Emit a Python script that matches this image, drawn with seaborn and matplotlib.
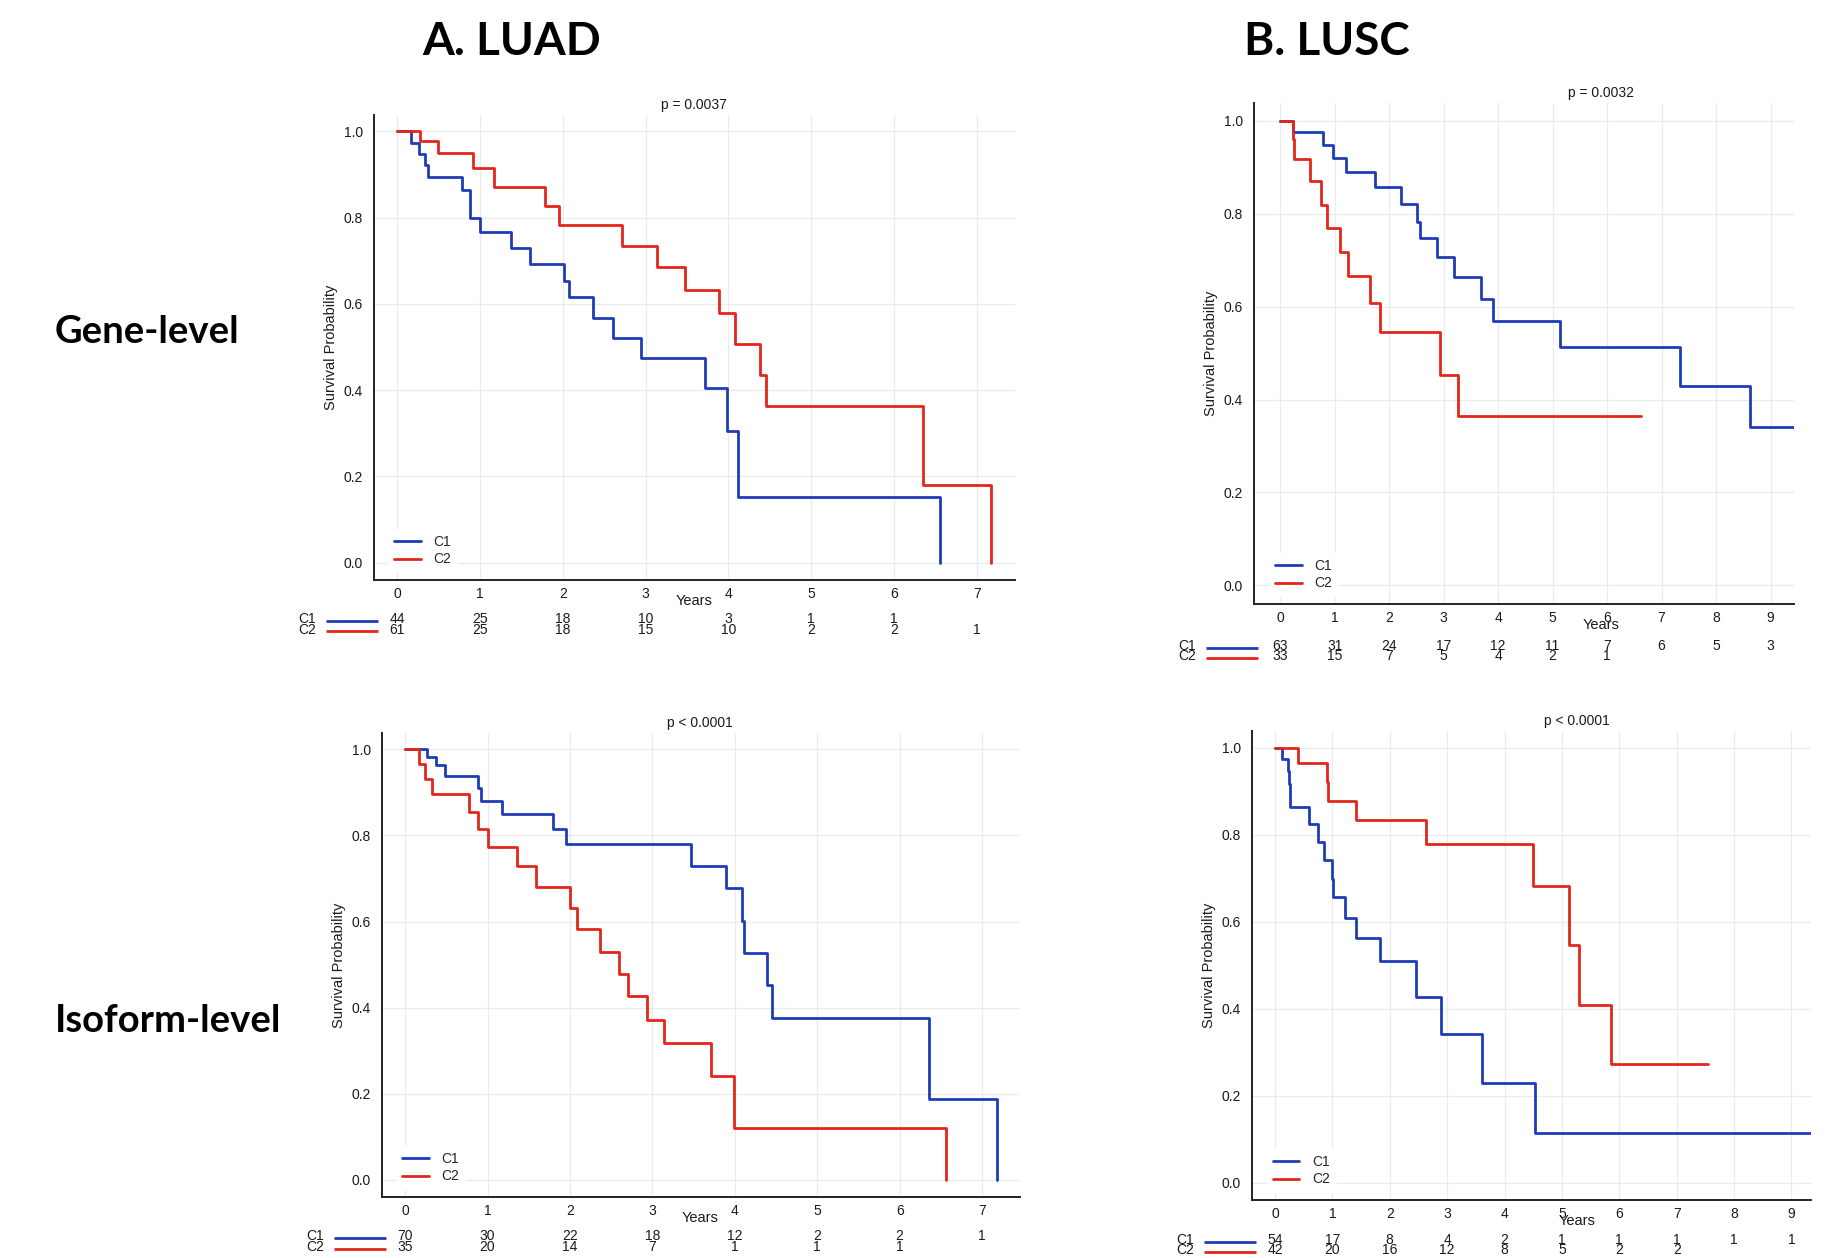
import pandas as pd
import seaborn as sns
import matplotlib.pyplot as plt
from matplotlib.lines import Line2D

sns.set_theme(style="white")
plt.rcParams["font.family"] = ["Liberation Sans", "DejaVu Sans"]

BLUE = "#1f3cb8"
RED = "#e3261c"

# =========================
# Kaplan-Meier curves
# =========================
# A. LUAD, gene-level
luad_gene_c1_t = [0, 0.17, 0.26, 0.33, 0.37, 0.78, 0.88, 1.00, 1.37, 1.60, 2.01, 2.08, 2.36,
                  2.60, 2.94, 3.72, 3.98, 4.11, 6.55]
luad_gene_c1_s = [1, 0.973, 0.948, 0.921, 0.894, 0.864, 0.799, 0.767, 0.730, 0.693, 0.654,
                  0.615, 0.567, 0.522, 0.475, 0.406, 0.305, 0.153, 0.0]
luad_gene_c2_t = [0, 0.27, 0.49, 0.92, 1.17, 1.79, 1.95, 2.71, 3.14, 3.47, 3.89, 4.08, 4.38,
                  4.45, 6.35, 7.17]
luad_gene_c2_s = [1, 0.978, 0.950, 0.914, 0.870, 0.826, 0.783, 0.734, 0.685, 0.633, 0.579,
                  0.507, 0.435, 0.363, 0.181, 0.0]

# B. LUSC, gene-level
lusc_gene_c1_t = [0, 0.23, 0.78, 0.97, 1.21, 1.74, 2.21, 2.51, 2.57, 2.87, 3.19, 3.69, 3.91,
                  5.13, 7.34, 8.63, 9.50]
lusc_gene_c1_s = [1, 0.976, 0.948, 0.919, 0.890, 0.858, 0.821, 0.783, 0.747, 0.707, 0.664,
                  0.617, 0.570, 0.514, 0.428, 0.341, 0.341]
lusc_gene_c2_t = [0, 0.23, 0.25, 0.55, 0.75, 0.86, 1.10, 1.24, 1.65, 1.83, 2.93, 3.26, 6.63]
lusc_gene_c2_s = [1, 0.960, 0.918, 0.870, 0.819, 0.769, 0.718, 0.666, 0.607, 0.545, 0.453,
                  0.364, 0.364]

# A. LUAD, isoform-level
luad_iso_c1_t = [0, 0.26, 0.38, 0.49, 0.88, 0.92, 1.18, 1.79, 1.95, 3.47, 3.89, 4.09, 4.11,
                 4.39, 4.45, 6.35, 7.18]
luad_iso_c1_s = [1, 0.983, 0.963, 0.939, 0.910, 0.881, 0.849, 0.814, 0.779, 0.730, 0.677,
                 0.602, 0.527, 0.452, 0.377, 0.188, 0.0]
luad_iso_c2_t = [0, 0.17, 0.24, 0.33, 0.77, 0.88, 1.01, 1.36, 1.59, 2.00, 2.08, 2.36, 2.60,
                 2.70, 2.94, 3.14, 3.71, 3.99, 6.56]
luad_iso_c2_s = [1, 0.966, 0.932, 0.896, 0.855, 0.815, 0.774, 0.729, 0.680, 0.631, 0.582,
                 0.530, 0.477, 0.426, 0.371, 0.318, 0.240, 0.120, 0.0]

# B. LUSC, isoform-level
lusc_iso_c1_t = [0, 0.13, 0.22, 0.24, 0.26, 0.59, 0.75, 0.85, 0.99, 1.02, 1.22, 1.42, 1.83,
                 2.46, 2.90, 3.60, 4.53, 9.50]
lusc_iso_c1_s = [1, 0.974, 0.947, 0.916, 0.864, 0.825, 0.784, 0.742, 0.698, 0.656, 0.608,
                 0.562, 0.510, 0.426, 0.341, 0.228, 0.114, 0.114]
lusc_iso_c2_t = [0, 0.40, 0.91, 0.93, 1.41, 2.64, 4.49, 5.13, 5.30, 5.85, 7.55]
lusc_iso_c2_s = [1, 0.964, 0.920, 0.876, 0.833, 0.778, 0.681, 0.545, 0.409, 0.273, 0.273]

# =========================
# Numbers at risk
# =========================
luad_gene_risk_c1 = [44, 25, 18, 10, 3, 1, 1]
luad_gene_risk_c2 = [61, 25, 18, 15, 10, 2, 2, 1]
lusc_gene_risk_c1 = [63, 31, 24, 17, 12, 11, 7, 6, 5, 3]
lusc_gene_risk_c2 = [33, 15, 7, 5, 4, 2, 1]
luad_iso_risk_c1 = [70, 30, 22, 18, 12, 2, 2, 1]
luad_iso_risk_c2 = [35, 20, 14, 7, 1, 1, 1]
lusc_iso_risk_c1 = [54, 17, 8, 4, 2, 1, 1, 1, 1, 1]
lusc_iso_risk_c2 = [42, 20, 16, 12, 8, 5, 2, 2]

pvals = ["p = 0.0037", "p = 0.0032", "p < 0.0001", "p < 0.0001"]

W, H = 1847, 1258
fig = plt.figure(figsize=(W / 100, H / 100), dpi=100)

# panel specs: axes box in pixels (left, top, right, bottom), xlim, x of title/Years,
# risk row offsets below the axes (pixels)
panels = [
    dict(box=(374, 115, 1015, 580), xlim=(-0.28, 7.46), xmax_tick=7, tx=3.58,
         c1=(luad_gene_c1_t, luad_gene_c1_s), c2=(luad_gene_c2_t, luad_gene_c2_s),
         r1=luad_gene_risk_c1, r2=luad_gene_risk_c2, p=pvals[0], rows=(39, 49.5)),
    dict(box=(1254, 103, 1794, 604), xlim=(-0.48, 9.43), xmax_tick=9, tx=5.89,
         c1=(lusc_gene_c1_t, lusc_gene_c1_s), c2=(lusc_gene_c2_t, lusc_gene_c2_s),
         r1=lusc_gene_risk_c1, r2=lusc_gene_risk_c2, p=pvals[1], rows=(42, 52.5)),
    dict(box=(382, 733, 1020, 1197), xlim=(-0.28, 7.46), xmax_tick=7, tx=3.58,
         c1=(luad_iso_c1_t, luad_iso_c1_s), c2=(luad_iso_c2_t, luad_iso_c2_s),
         r1=luad_iso_risk_c1, r2=luad_iso_risk_c2, p=pvals[2], rows=(39.5, 50)),
    dict(box=(1252, 731, 1811, 1200), xlim=(-0.40, 9.34), xmax_tick=9, tx=5.26,
         c1=(lusc_iso_c1_t, lusc_iso_c1_s), c2=(lusc_iso_c2_t, lusc_iso_c2_s),
         r1=lusc_iso_risk_c1, r2=lusc_iso_risk_c2, p=pvals[3], rows=(40, 50.5)),
]

FS = 10

for pan in panels:
    l, t, r, b = pan["box"]
    wpx, hpx = r - l, b - t
    ax = fig.add_axes([l / W, 1 - b / H, wpx / W, hpx / H])

    df = pd.concat([
        pd.DataFrame({"time": pan["c1"][0], "surv": pan["c1"][1], "group": "C1"}),
        pd.DataFrame({"time": pan["c2"][0], "surv": pan["c2"][1], "group": "C2"}),
    ])
    sns.lineplot(data=df, x="time", y="surv", hue="group", palette={"C1": BLUE, "C2": RED},
                 estimator=None, sort=False, drawstyle="steps-post", linewidth=2.0,
                 legend=False, ax=ax, zorder=3)

    ax.set_xlim(*pan["xlim"])
    ax.set_ylim(-0.04, 1.038)
    ax.set_xticks(range(0, pan["xmax_tick"] + 1))
    ax.set_yticks([0, 0.2, 0.4, 0.6, 0.8, 1.0])
    ax.set_yticklabels(["0.0", "0.2", "0.4", "0.6", "0.8", "1.0"])
    ax.grid(True, color="#ebebeb", linewidth=0.9)
    ax.set_axisbelow(True)
    for s in ["top", "right"]:
        ax.spines[s].set_visible(False)
    for s in ["left", "bottom"]:
        ax.spines[s].set_color("#222222")
        ax.spines[s].set_linewidth(1.4)
    ax.tick_params(axis="both", length=2.5, width=0.8, color="#555555",
                   labelsize=FS, labelcolor="#1a1a1a")
    ax.tick_params(axis="y", pad=5.5)
    ax.tick_params(axis="x", pad=2.5)
    ax.set_xlabel("")
    ax.set_ylabel("Survival Probability", fontsize=10.5, color="#1a1a1a")
    ax.yaxis.set_label_coords(-36 / wpx, 0.5)

    # p-value and Years label
    ax.annotate(pan["p"], xy=(pan["tx"], 1), xycoords=("data", "axes fraction"),
                xytext=(0, 3), textcoords="offset pixels", ha="center", va="bottom",
                fontsize=FS, color="#1a1a1a")
    ax.annotate("Years", xy=(pan["tx"], 0), xycoords=("data", "axes fraction"),
                xytext=(0, -21), textcoords="offset pixels", ha="center", va="center",
                fontsize=10.5, color="#1a1a1a")

    handles = [Line2D([], [], color=BLUE, lw=2.0), Line2D([], [], color=RED, lw=2.0)]
    leg = ax.legend(handles, ["C1", "C2"], loc="lower left", bbox_to_anchor=(20 / wpx - 0.008, 8 / hpx),
                    frameon=True, facecolor="white", edgecolor="white", framealpha=1,
                    fancybox=False, fontsize=FS, handlelength=1.9, handletextpad=0.9,
                    labelspacing=0.25, borderpad=0.4, borderaxespad=0)
    leg.set_zorder(4)

    # numbers at risk table
    for row, (name, counts, col) in enumerate([("C1", pan["r1"], BLUE), ("C2", pan["r2"], RED)]):
        off = pan["rows"][row]
        ax.annotate(name, xy=(0, 0), xycoords="axes fraction", xytext=(-58, -off),
                    textcoords="offset pixels", ha="right", va="center", fontsize=FS,
                    color="#1a1a1a", annotation_clip=False)
        ax.plot([-48 / wpx, 4 / wpx], [-(off + 1.5) / hpx] * 2, transform=ax.transAxes,
                color=col, lw=2.0, clip_on=False, solid_capstyle="butt")
        for i, n in enumerate(counts):
            ax.annotate(str(n), xy=(i, 0), xycoords=("data", "axes fraction"),
                        xytext=(0, -off), textcoords="offset pixels", ha="center",
                        va="center", fontsize=FS, color="#1a1a1a", annotation_clip=False)

# column and row headings
big = dict(fontweight="bold", family=["Lato", "DejaVu Sans"], color="black")
fig.text(512 / W, 1 - 55 / H, "A. LUAD", ha="center", va="baseline", fontsize=33, **big)
fig.text(1327 / W, 1 - 55 / H, "B. LUSC", ha="center", va="baseline", fontsize=33, **big)
fig.text(55 / W, 1 - 343 / H, "Gene-level", ha="left", va="baseline", fontsize=27.5, **big)
fig.text(55 / W, 1 - 1032 / H, "Isoform-level", ha="left", va="baseline", fontsize=27.5, **big)

fig.savefig("out.png", dpi=100, facecolor="white")
